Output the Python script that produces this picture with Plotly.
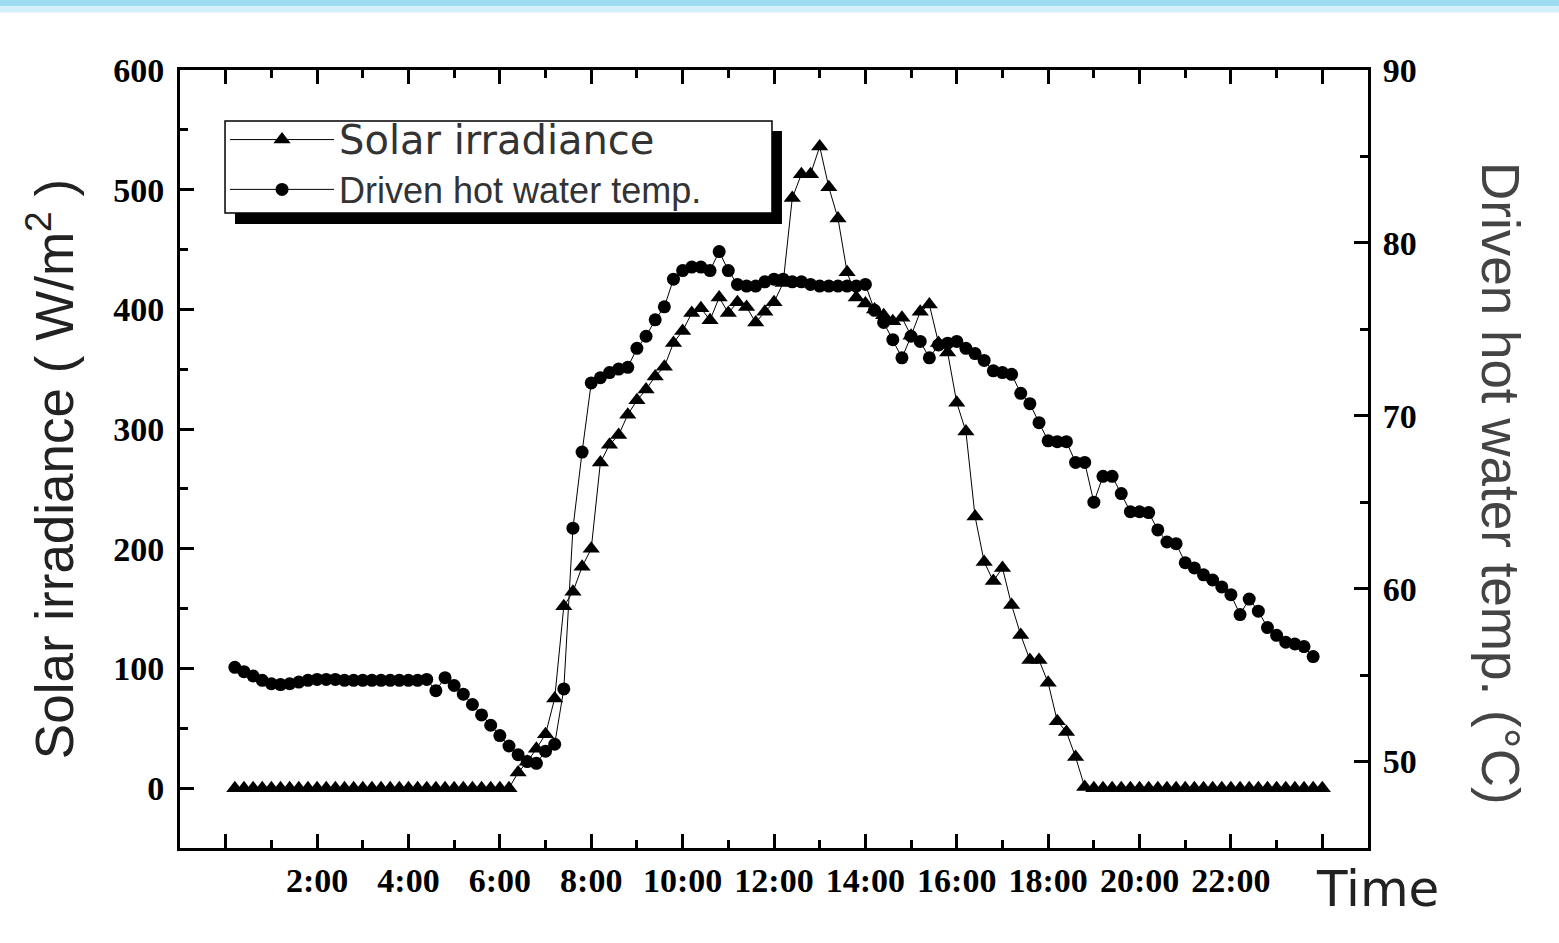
import plotly.graph_objects as go

# Sampling times (minutes after midnight), 12-minute logging interval
time_min = [12, 24, 36, 48, 60, 72, 84, 96, 108, 120,
            132, 144, 156, 168, 180, 192, 204, 216, 228, 240,
            252, 264, 276, 288, 300, 312, 324, 336, 348, 360,
            372, 384, 396, 408, 420, 432, 444, 456, 468, 480,
            492, 504, 516, 528, 540, 552, 564, 576, 588, 600,
            612, 624, 636, 648, 660, 672, 684, 696, 708, 720,
            732, 744, 756, 768, 780, 792, 804, 816, 828, 840,
            852, 864, 876, 888, 900, 912, 924, 936, 948, 960,
            972, 984, 996, 1008, 1020, 1032, 1044, 1056, 1068, 1080,
            1092, 1104, 1116, 1128, 1140, 1152, 1164, 1176, 1188, 1200,
            1212, 1224, 1236, 1248, 1260, 1272, 1284, 1296, 1308, 1320,
            1332, 1344, 1356, 1368, 1380, 1392, 1404, 1416, 1428, 1440]

# Solar irradiance (W/m2)
solar_irradiance = [0, 0, 0, 0, 0, 0, 0, 0, 0, 0,
                    0, 0, 0, 0, 0, 0, 0, 0, 0, 0,
                    0, 0, 0, 0, 0, 0, 0, 0, 0, 0,
                    0, 13, 22, 33, 45, 75, 152, 164, 185, 200,
                    272, 287, 295, 312, 324, 333, 344, 352, 372, 382,
                    397, 401, 391, 410, 397, 406, 402, 389, 398, 406,
                    422, 493, 513, 513, 536, 502, 476, 431, 410, 405,
                    400, 395, 390, 393, 378, 398, 404, 372, 364, 322,
                    298, 227, 189, 173, 184, 153, 128, 107, 107, 88,
                    56, 47, 26, 1, 0, 0, 0, 0, 0, 0,
                    0, 0, 0, 0, 0, 0, 0, 0, 0, 0,
                    0, 0, 0, 0, 0, 0, 0, 0, 0, 0]

# Driven hot water temperature (deg C)
water_temp = [55.45, 55.2, 54.95, 54.7, 54.5, 54.45, 54.5, 54.6, 54.7, 54.75,
              54.75, 54.75, 54.7, 54.7, 54.7, 54.7, 54.7, 54.7, 54.7, 54.7,
              54.7, 54.75, 54.1, 54.85, 54.4, 53.9, 53.3, 52.7, 52.1, 51.5,
              50.9, 50.4, 50.0, 49.9, 50.6, 51.0, 54.2, 63.5, 67.9, 71.9,
              72.2, 72.5, 72.7, 72.8, 73.9, 74.6, 75.55, 76.3, 77.9, 78.4,
              78.6, 78.6, 78.4, 79.5, 78.4, 77.6, 77.5, 77.5, 77.75, 77.9,
              77.9, 77.75, 77.75, 77.6, 77.5, 77.5, 77.5, 77.5, 77.5, 77.6,
              76.1, 75.4, 74.4, 73.35, 74.6, 74.3, 73.35, 74.1, 74.2, 74.3,
              73.9, 73.6, 73.2, 72.6, 72.5, 72.4, 71.3, 70.7, 69.6, 68.55,
              68.5, 68.5, 67.3, 67.3, 65.0, 66.5, 66.5, 65.5, 64.45, 64.45,
              64.4, 63.4, 62.7, 62.6, 61.5, 61.2, 60.8, 60.5, 60.1, 59.65,
              58.5, 59.4, 58.7, 57.75, 57.3, 56.9, 56.8, 56.65, 56.07, None]

x_tick_hours = [2, 4, 6, 8, 10, 12, 14, 16, 18, 20, 22]
x_tick_labels = ["2:00", "4:00", "6:00", "8:00", "10:00", "12:00",
                 "14:00", "16:00", "18:00", "20:00", "22:00"]
x_end_ticks = [0, 24]
x_minor_ticks = [1, 3, 5, 7, 9, 11, 13, 15, 17, 19, 21, 23]
y1_ticks = [0, 100, 200, 300, 400, 500, 600]
y2_ticks = [50, 60, 70, 80, 90]

hours = [m / 60 for m in time_min]

fig = go.Figure()
fig.add_trace(go.Scatter(
    x=hours, y=solar_irradiance, mode="lines+markers",
    name="<span style='font-family:DejaVu Sans;font-size:40px'>Solar irradiance</span>",
    line=dict(color="black", width=1),
    marker=dict(symbol="triangle-up", size=15, color="black"),
    yaxis="y"))
fig.add_trace(go.Scatter(
    x=hours, y=water_temp, mode="lines+markers",
    name="Driven hot water temp.",
    line=dict(color="black", width=1),
    marker=dict(symbol="circle", size=13, color="black"),
    yaxis="y2"))
# carrier for the unlabeled end ticks at 0:00 and 24:00
fig.add_trace(go.Scatter(x=[None], y=[None], xaxis="x2", yaxis="y",
                         showlegend=False, hoverinfo="skip"))

tickfont = dict(family="Liberation Serif", size=34, color="black", weight="bold")
XR = [-1, 25]

fig.update_layout(
    width=1559, height=943,
    margin=dict(l=180, r=191, t=70, b=95),
    paper_bgcolor="white", plot_bgcolor="white",
    showlegend=True,
    legend=dict(x=0.0379, y=0.949, xanchor="left", yanchor="top",
                bgcolor="rgba(0,0,0,0)", borderwidth=0,
                font=dict(family="Liberation Sans", size=36, color="#333"),
                itemwidth=104, tracegroupgap=0),
    xaxis=dict(range=XR, tickmode="array", tickvals=x_tick_hours,
               ticktext=x_tick_labels, ticks="inside", ticklen=14, tickwidth=3,
               tickcolor="black", showline=True, linewidth=3, linecolor="black",
               mirror="ticks", showgrid=False, zeroline=False,
               tickfont=tickfont, ticklabelstandoff=0,
               minor=dict(tickvals=x_minor_ticks,
                          ticks="inside", ticklen=8, tickwidth=3, tickcolor="black")),
    xaxis2=dict(range=XR, overlaying="x", tickmode="array", tickvals=x_end_ticks,
                ticks="inside", ticklen=14, tickwidth=3, tickcolor="black",
                showticklabels=False, showline=False, mirror="ticks",
                showgrid=False, zeroline=False),
    yaxis=dict(range=[-50, 600], tickmode="array", tickvals=y1_ticks,
               ticks="inside", ticklen=14, tickwidth=3, tickcolor="black",
               showline=True, linewidth=3, linecolor="black", mirror=False,
               showgrid=False, zeroline=False, tickfont=tickfont,
               ticklabelstandoff=6,
               minor=dict(dtick=50, tick0=-50, ticks="inside", ticklen=8,
                          tickwidth=3, tickcolor="black")),
    yaxis2=dict(range=[45, 90], overlaying="y", side="right", tickmode="array",
                tickvals=y2_ticks, ticks="inside", ticklen=14, tickwidth=3,
                tickcolor="black", showline=True, linewidth=3, linecolor="black",
                showgrid=False, zeroline=False, tickfont=tickfont,
                ticklabelstandoff=5,
                minor=dict(dtick=5, tick0=45, ticks="inside", ticklen=8,
                           tickwidth=3, tickcolor="black")),
)

# legend box with drop shadow
fig.add_shape(type="rect", xref="paper", yref="paper",
              x0=0.0463, x1=0.5067, y0=0.802, y1=0.9216,
              fillcolor="black", line=dict(width=0), layer="above")
fig.add_shape(type="rect", xref="paper", yref="paper",
              x0=0.0379, x1=0.4983, y0=0.8162, y1=0.9344,
              fillcolor="white", line=dict(width=1.5, color="black"), layer="above")
# light blue band at the top edge
fig.add_shape(type="rect", xref="paper", yref="paper",
              x0=-0.16, x1=1.17, y0=1.082, y1=1.10,
              fillcolor="#9fdcf2", line=dict(width=0), layer="above")
fig.add_shape(type="rect", xref="paper", yref="paper",
              x0=-0.16, x1=1.17, y0=1.074, y1=1.082,
              fillcolor="#d3f0fa", line=dict(width=0), layer="above")

fig.add_annotation(text="Solar irradiance ( W/m<sup>2</sup> )", xref="paper", yref="paper",
                   x=-0.1094, y=0.487, xanchor="center", yanchor="middle",
                   textangle=-90, showarrow=False,
                   font=dict(family="Liberation Sans", size=53, color="#222"))
fig.add_annotation(text="Driven hot water temp. (°C)", xref="paper", yref="paper",
                   x=1.111, y=0.468, xanchor="center", yanchor="middle",
                   textangle=90, showarrow=False,
                   font=dict(family="Liberation Sans", size=53, color="#444"))
fig.add_annotation(text="Time", xref="paper", yref="paper",
                   x=1.0076, y=-0.0527, xanchor="center", yanchor="middle",
                   showarrow=False,
                   font=dict(family="DejaVu Sans", size=50, color="#222"))

fig.write_html("out.html", config={"displayModeBar": False},
               post_script="document.body.style.margin='0';document.body.style.overflow='hidden';")
